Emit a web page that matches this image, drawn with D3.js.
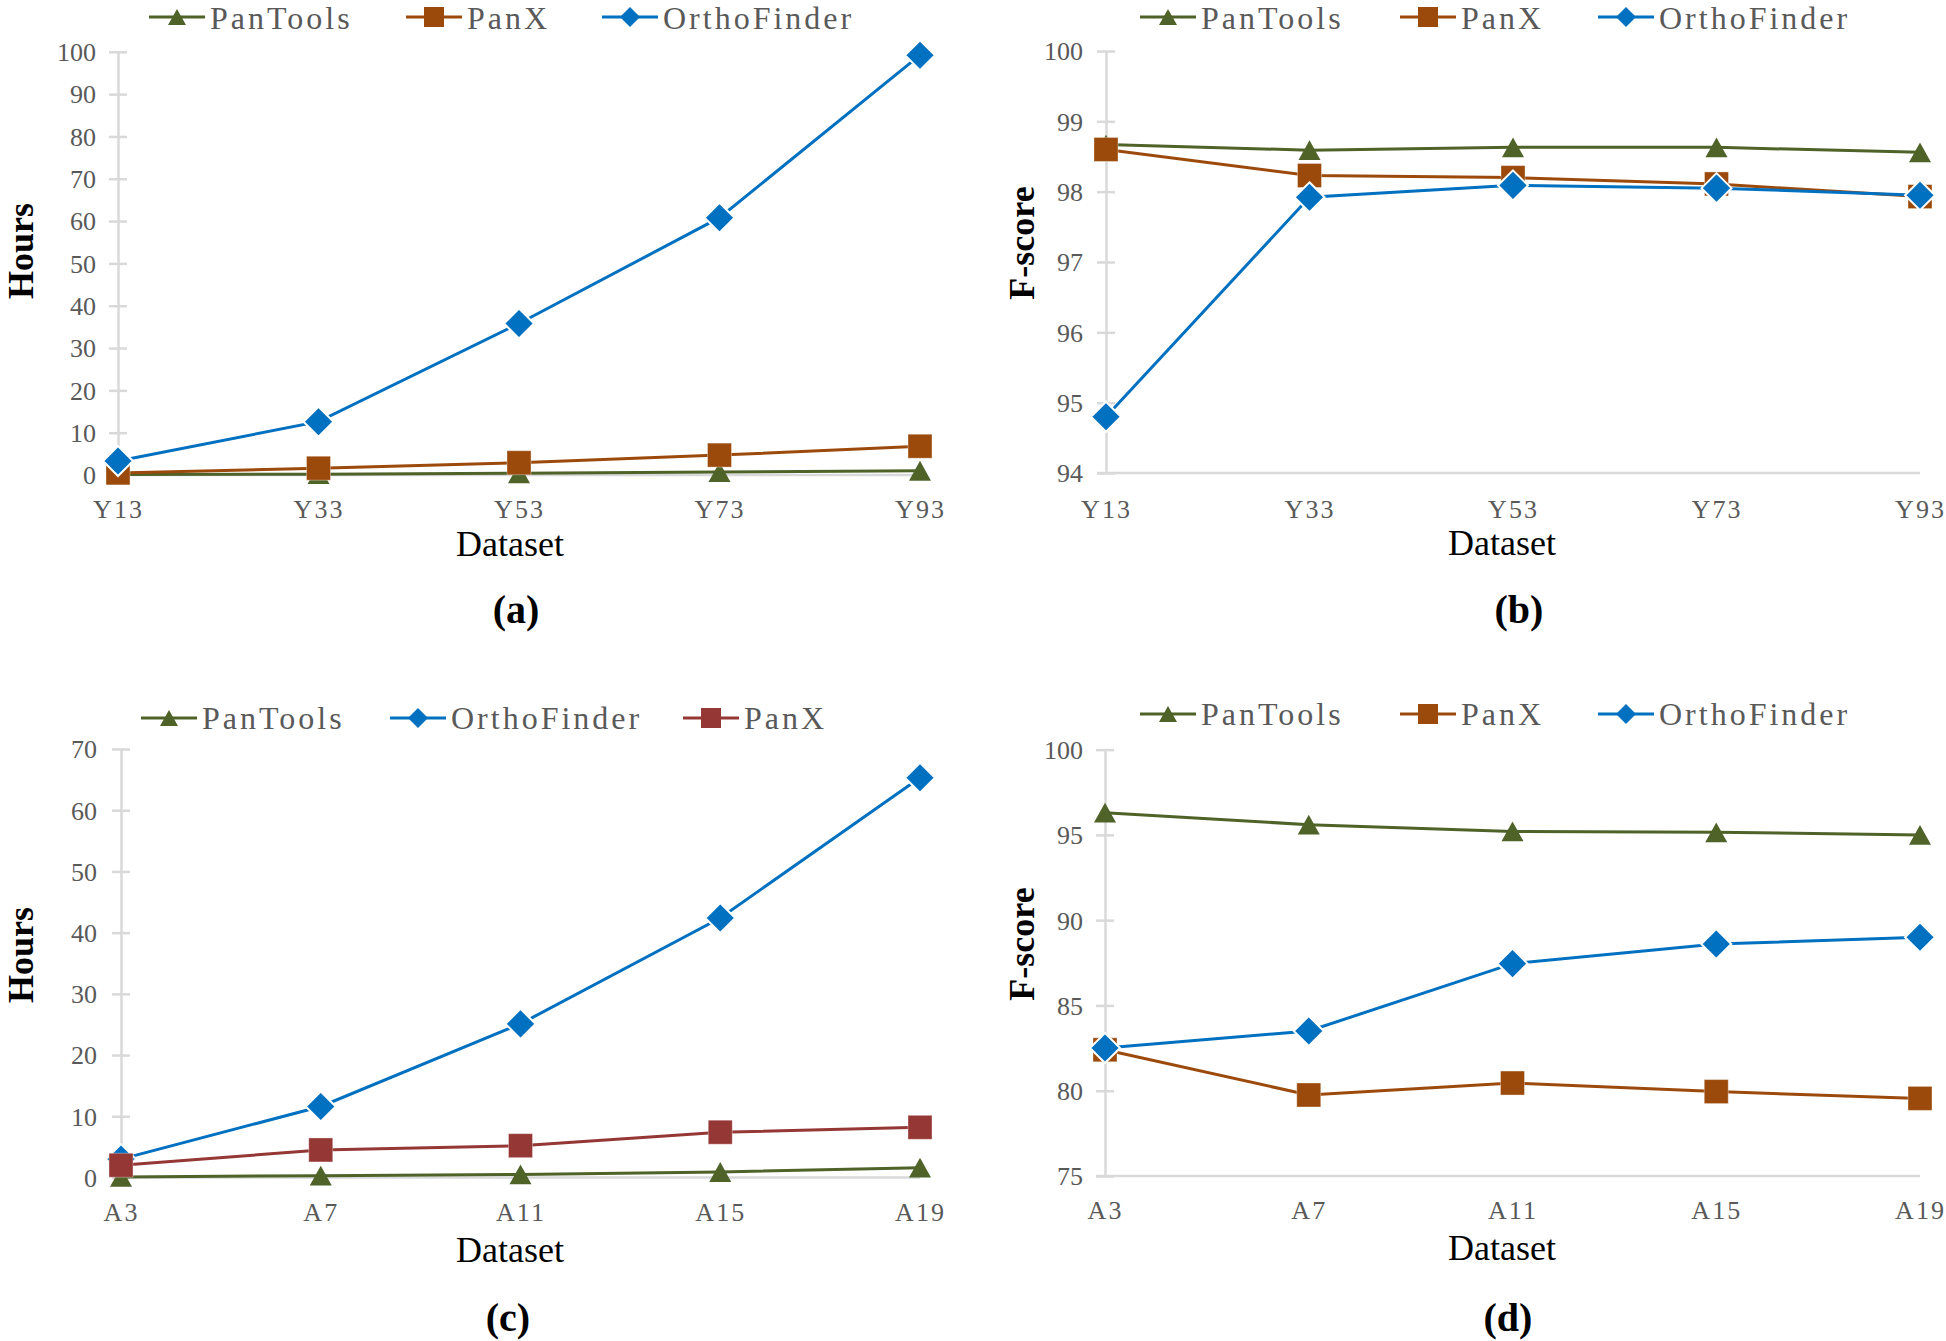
<!DOCTYPE html>
<html><head><meta charset="utf-8">
<script src="https://cdn.jsdelivr.net/npm/d3@7"></script>
<style>body{margin:0;background:#fff;} svg{display:block;}</style>
</head><body>
<svg id="c" width="1946" height="1341"></svg>
<script>
// ---------- data ----------
const catsY = ["Y13","Y33","Y53","Y73","Y93"];
const catsA = ["A3","A7","A11","A15","A19"];

const hoursY_PanTools   = [0.1, 0.2, 0.4, 0.7, 1.0];
const hoursY_PanX       = [0.5, 1.6, 2.9, 4.7, 6.8];
const hoursY_OrthoFinder= [3.3, 12.6, 35.8, 60.8, 99.2];

const fY_PanTools   = [98.67, 98.59, 98.63, 98.63, 98.56];
const fY_PanX       = [98.60, 98.23, 98.20, 98.11, 97.93];
const fY_OrthoFinder= [94.80, 97.92, 98.09, 98.05, 97.95];

const hoursA_PanTools   = [0.1, 0.3, 0.5, 0.9, 1.6];
const hoursA_OrthoFinder= [3.0, 11.6, 25.1, 42.4, 65.3];
const hoursA_PanX       = [2.0, 4.5, 5.2, 7.4, 8.2];

const fA_PanTools   = [96.3, 95.6, 95.2, 95.15, 95.0];
const fA_PanX       = [82.4, 79.75, 80.45, 79.95, 79.55];
const fA_OrthoFinder= [82.5, 83.5, 87.45, 88.6, 89.0];

const ticksHoursY = [0,10,20,30,40,50,60,70,80,90,100];
const ticksFY     = [94,95,96,97,98,99,100];
const ticksHoursA = [0,10,20,30,40,50,60,70];
const ticksFA     = [75,80,85,90,95,100];

const panelLabels = ["(a)","(b)","(c)","(d)"];

// ---------- styles ----------
const COL = {green:"#4f6228", brown:"#9c4a0c", blue:"#0070c0", red:"#953735"};
const FONT = "'Liberation Serif','Times New Roman',serif";
const svg = d3.select("#c");

// custom symbols (size = full width)
const symTri = {draw(ctx,s){ const w=s/2,h=s*0.9/2; ctx.moveTo(0,-h); ctx.lineTo(w,h); ctx.lineTo(-w,h); ctx.closePath(); }};
const symSq  = {draw(ctx,s){ const r=s/2; ctx.rect(-r,-r,s,s); }};
const symDia = {draw(ctx,s){ const r=s/2; ctx.moveTo(0,-r); ctx.lineTo(r,0); ctx.lineTo(0,r); ctx.lineTo(-r,0); ctx.closePath(); }};
const marker = {
  tri:{type:symTri, size:22, legend:18, stroke:"none", sw:0},
  sq:{type:symSq, size:24, legend:20, stroke:"rgba(255,255,255,0.35)", sw:1},
  dia:{type:symDia, size:30, legend:20, stroke:"#fff", sw:2}
};

const panels = [
  {cats:catsY, x0:118, x1:920, yDom:[0,100], yR:[475,51.8], ticks:ticksHoursY, ytitle:"Hours",
   ytx:33, yty:251, labRight:96, xlabY:518, dsY:556, dsX:510, plX:516, plY:623, legY:17, legBase:29,
   series:[{name:"PanTools",vals:hoursY_PanTools,col:COL.green,m:"tri",lx:149},
           {name:"PanX",vals:hoursY_PanX,col:COL.brown,m:"sq",lx:406},
           {name:"OrthoFinder",vals:hoursY_OrthoFinder,col:COL.blue,m:"dia",lx:602}]},
  {cats:catsY, x0:1106, x1:1920, yDom:[94,100], yR:[473,51], ticks:ticksFY, ytitle:"F-score",
   ytx:1034, yty:243, labRight:1083, xlabY:518, dsY:555, dsX:1502, plX:1519, plY:623, legY:17, legBase:29,
   series:[{name:"PanTools",vals:fY_PanTools,col:COL.green,m:"tri",lx:1140},
           {name:"PanX",vals:fY_PanX,col:COL.brown,m:"sq",lx:1400},
           {name:"OrthoFinder",vals:fY_OrthoFinder,col:COL.blue,m:"dia",lx:1598}]},
  {cats:catsA, x0:121, x1:920, yDom:[0,70], yR:[1177.5,749], ticks:ticksHoursA, ytitle:"Hours",
   ytx:33, yty:955, labRight:97, xlabY:1221, dsY:1262, dsX:510, plX:508, plY:1331, legY:718, legBase:729,
   series:[{name:"PanTools",vals:hoursA_PanTools,col:COL.green,m:"tri",lx:141},
           {name:"OrthoFinder",vals:hoursA_OrthoFinder,col:COL.blue,m:"dia",lx:390},
           {name:"PanX",vals:hoursA_PanX,col:COL.red,m:"sq",lx:683}]},
  {cats:catsA, x0:1105, x1:1920, yDom:[75,100], yR:[1176,749.6], ticks:ticksFA, ytitle:"F-score",
   ytx:1034, yty:944, labRight:1083, xlabY:1219, dsY:1260, dsX:1502, plX:1508, plY:1331, legY:714, legBase:725,
   series:[{name:"PanTools",vals:fA_PanTools,col:COL.green,m:"tri",lx:1140},
           {name:"PanX",vals:fA_PanX,col:COL.brown,m:"sq",lx:1400},
           {name:"OrthoFinder",vals:fA_OrthoFinder,col:COL.blue,m:"dia",lx:1598}]}
];

panels.forEach((p,pi)=>{
  const g = svg.append("g");
  const x = d3.scalePoint().domain(p.cats).range([p.x0,p.x1]);
  const y = d3.scaleLinear().domain(p.yDom).range(p.yR);

  // y axis (cross ticks)
  const yAxis = d3.axisLeft(y).tickValues(p.ticks).tickFormat(d3.format("d")).tickSize(0).tickPadding(0);
  const ya = g.append("g").attr("transform",`translate(${p.x0},0)`).call(yAxis);
  ya.select(".domain").attr("stroke","#d9d9d9").attr("stroke-width",2.5);
  ya.selectAll(".tick line").attr("x1",-9).attr("x2",9).attr("stroke","#d9d9d9").attr("stroke-width",2.5);
  ya.selectAll(".tick text").attr("x",p.labRight-p.x0).attr("dy","0.34em")
    .attr("font-family",FONT).attr("font-size",26).attr("fill","#595959").attr("text-anchor","end");

  // x axis
  const xAxis = d3.axisBottom(x).tickSize(0);
  const xa = g.append("g").attr("transform",`translate(0,${p.yR[0]})`).call(xAxis);
  xa.select(".domain").attr("d",`M${p.x0-9},0H${p.x1}`).attr("stroke","#d9d9d9").attr("stroke-width",2.5);
  xa.selectAll(".tick text").attr("y",p.xlabY-p.yR[0]).attr("dy",0)
    .attr("font-family",FONT).attr("font-size",26).attr("fill","#595959").attr("letter-spacing","2px");

  // series
  p.series.forEach(s=>{
    const pts = s.vals.map((v,i)=>[x(p.cats[i]), y(v)]);
    g.append("path").attr("d",d3.line()(pts)).attr("fill","none")
      .attr("stroke",s.col).attr("stroke-width",3);
    const mk = marker[s.m];
    g.selectAll(null).data(pts).enter().append("path")
      .attr("transform",d=>`translate(${d[0]},${d[1]})`)
      .attr("d",d3.symbol().type(mk.type).size(mk.size))
      .attr("fill",s.col).attr("stroke",mk.stroke).attr("stroke-width",mk.sw);
  });

  // legend
  p.series.forEach(s=>{
    const lg = g.append("g");
    lg.append("line").attr("x1",s.lx).attr("x2",s.lx+56).attr("y1",p.legY).attr("y2",p.legY)
      .attr("stroke",s.col).attr("stroke-width",3);
    const mk = marker[s.m];
    lg.append("path").attr("transform",`translate(${s.lx+28},${p.legY})`)
      .attr("d",d3.symbol().type(mk.type).size(mk.legend)).attr("fill",s.col);
    lg.append("text").attr("x",s.lx+61).attr("y",p.legBase).text(s.name)
      .attr("font-family",FONT).attr("font-size",32).attr("fill","#595959").attr("letter-spacing","3px");
  });

  // titles
  g.append("text").attr("transform",`translate(${p.ytx},${p.yty}) rotate(-90)`)
    .attr("text-anchor","middle").attr("font-family",FONT).attr("font-weight","bold")
    .attr("font-size",36).attr("fill","#000").text(p.ytitle);
  g.append("text").attr("x",p.dsX).attr("y",p.dsY).attr("text-anchor","middle")
    .attr("font-family",FONT).attr("font-size",36).attr("fill","#000").text("Dataset");
  g.append("text").attr("x",p.plX).attr("y",p.plY).attr("text-anchor","middle")
    .attr("font-family",FONT).attr("font-weight","bold").attr("font-size",40).attr("fill","#000").text(panelLabels[pi]);
});
</script>
</body></html>
